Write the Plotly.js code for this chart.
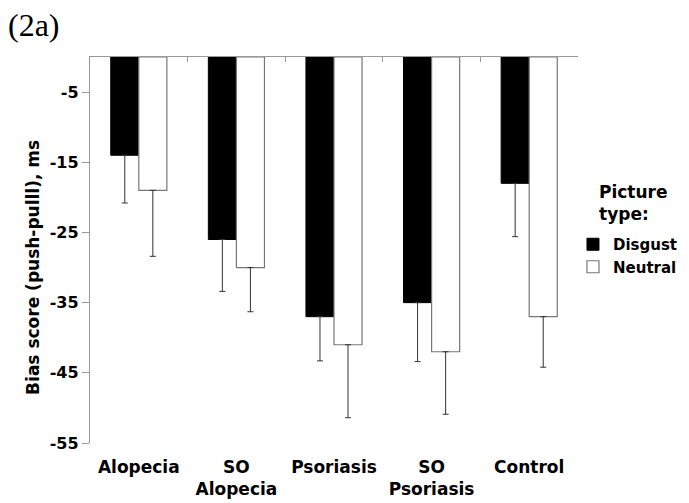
<!DOCTYPE html>
<html>
<head>
<meta charset="utf-8">
<script src="https://cdn.plot.ly/plotly-3.0.1.min.js"></script>
<style>html,body{margin:0;padding:0;background:#fff;}#chart{width:689px;height:503px;}</style>
</head>
<body>
<div id="chart"></div>
<script>
const categories = ["Alopecia", "SO<br>Alopecia", "Psoriasis", "SO<br>Psoriasis", "Control"];
const seriesNames = ["Disgust", "Neutral"];
const disgustValues = [-14, -26, -37, -35, -18];
const disgustErrors = [6.8, 7.4, 6.3, 8.4, 7.6];
const neutralValues = [-19, -30, -41, -42, -37];
const neutralErrors = [9.4, 6.3, 10.4, 8.9, 7.2];
const yTickValues = [-5, -15, -25, -35, -45, -55];
const yTickLabels = ["-5", "-15", "-25", "-35", "-45", "-55"];
const boundaryTicks = [0.5, 1.5, 2.5, 3.5, 4.5];

const font = "DejaVu Sans, sans-serif";
const idx = categories.map((_, i) => i);

const traces = [
  {
    type: "bar", name: seriesNames[0], x: idx, y: disgustValues,
    marker: {color: "#000000", line: {color: "#000000", width: 1}},
    error_y: {type: "data", symmetric: false, array: disgustValues.map(() => 0), arrayminus: disgustErrors,
              color: "#333333", thickness: 1, width: 3}
  },
  {
    type: "bar", name: seriesNames[1], x: idx, y: neutralValues,
    marker: {color: "#ffffff", line: {color: "#777777", width: 1.2}},
    error_y: {type: "data", symmetric: false, array: neutralValues.map(() => 0), arrayminus: neutralErrors,
              color: "#333333", thickness: 1, width: 3}
  },
  {
    type: "scatter", x: [0], y: [0], xaxis: "x2", mode: "markers",
    marker: {opacity: 0}, showlegend: false, hoverinfo: "skip"
  }
];

const layout = {
  width: 689, height: 503,
  margin: {l: 90, r: 111, t: 57, b: 60, autoexpand: false},
  paper_bgcolor: "#ffffff", plot_bgcolor: "#ffffff",
  barmode: "group", bargap: 0.425, bargroupgap: 0,
  showlegend: true,
  legend: {
    xref: "container", yref: "container",
    x: 0.8316, xanchor: "left", y: 0.5467, yanchor: "top",
    font: {family: font, size: 15, color: "#000", weight: "bold"},
    tracegroupgap: 0, itemwidth: 30
  },
  xaxis: {
    range: [-0.5, 4.5], tickvals: idx, ticktext: categories,
    showline: false, ticks: "", showgrid: false, zeroline: false,
    ticklabelstandoff: 12,
    tickfont: {family: font, size: 17, color: "#000", weight: "bold"}
  },
  xaxis2: {
    overlaying: "x", side: "top", anchor: "y", range: [-0.5, 4.5],
    tickvals: boundaryTicks, ticks: "inside", ticklen: 5, tickcolor: "#999999", tickwidth: 1,
    showticklabels: false, showline: true, linecolor: "#999999", linewidth: 1.2,
    showgrid: false, zeroline: false
  },
  yaxis: {
    range: [-55, 0], tickvals: yTickValues, ticktext: yTickLabels,
    ticks: "outside", ticklen: 7, tickcolor: "#999999", tickwidth: 1,
    showline: true, linecolor: "#999999", linewidth: 1.2,
    showgrid: false, zeroline: false,
    tickfont: {family: font, size: 16, color: "#000", weight: "bold"}
  },
  annotations: [
    {text: "(2a)", xref: "paper", yref: "paper", x: -0.172, y: 1.083, xanchor: "left", yanchor: "middle",
     showarrow: false, font: {family: "Liberation Serif, Times New Roman, serif", size: 32, color: "#000"}},
    {text: "Bias score (push-pulll), ms", xref: "paper", yref: "paper", x: -0.117, y: 0.456,
     xanchor: "center", yanchor: "middle", textangle: -90, showarrow: false,
     font: {family: font, size: 17, color: "#000", weight: "bold"}},
    {text: "Picture<br>type:", xref: "paper", yref: "paper", x: 1.039, y: 0.6205,
     xanchor: "left", yanchor: "middle", align: "left", showarrow: false,
     font: {family: font, size: 17, color: "#000", weight: "bold"}}
  ]
};

Plotly.newPlot("chart", traces, layout, {displayModeBar: false, staticPlot: true});
</script>
</body>
</html>
